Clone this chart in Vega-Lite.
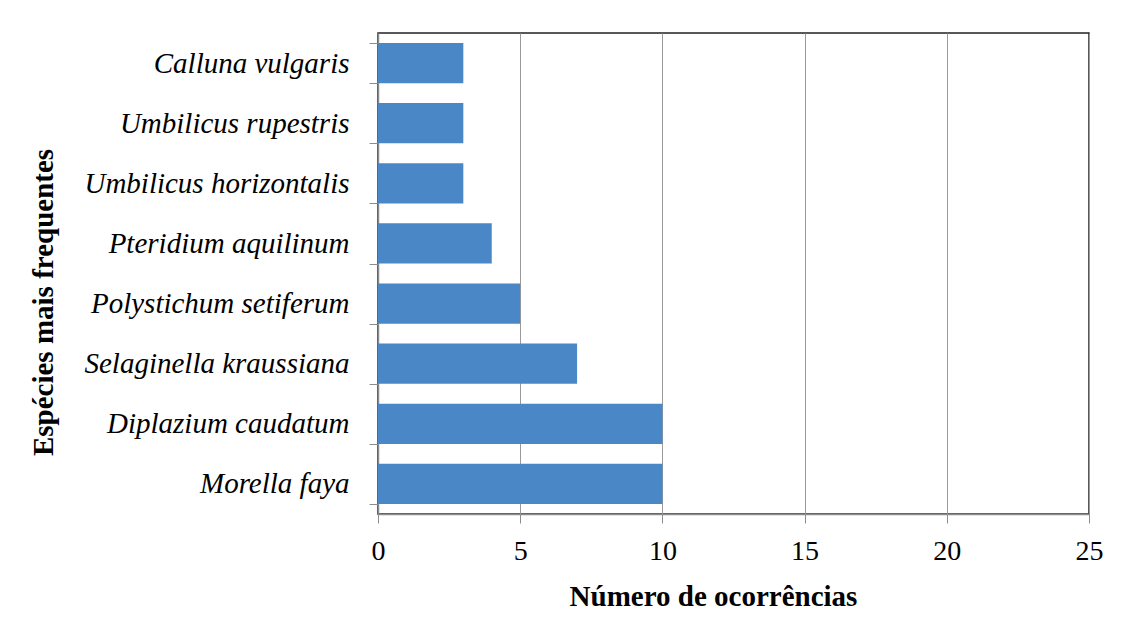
{
  "$schema": "https://vega.github.io/schema/vega-lite/v6.json",
  "width": 711,
  "height": 481,
  "autosize": {"type": "none"},
  "padding": {"left": 378, "top": 33, "right": 36, "bottom": 116},
  "background": "white",
  "config": {
    "view": {"stroke": "#222222", "strokeWidth": 1.5},
    "font": "Liberation Serif"
  },
  "data": {
    "values": [
      {"especie": "Calluna vulgaris", "ocorrencias": 3},
      {"especie": "Umbilicus rupestris", "ocorrencias": 3},
      {"especie": "Umbilicus horizontalis", "ocorrencias": 3},
      {"especie": "Pteridium aquilinum", "ocorrencias": 4},
      {"especie": "Polystichum setiferum", "ocorrencias": 5},
      {"especie": "Selaginella kraussiana", "ocorrencias": 7},
      {"especie": "Diplazium caudatum", "ocorrencias": 10},
      {"especie": "Morella faya", "ocorrencias": 10}
    ]
  },
  "mark": {"type": "bar", "color": "#4A87C7"},
  "encoding": {
    "y": {
      "field": "especie",
      "type": "nominal",
      "sort": null,
      "scale": {"paddingInner": 0.33, "paddingOuter": 0.165},
      "axis": {
        "title": "Espécies mais frequentes",
        "titleFont": "Liberation Serif",
        "titleFontSize": 29,
        "titleFontWeight": "bold",
        "titleColor": "black",
        "titleX": -326,
        "titleY": 269,
        "titleBaseline": "alphabetic",
        "titleAngle": -90,
        "labelFont": "Liberation Serif",
        "labelFontSize": 29,
        "labelFontStyle": "italic",
        "labelColor": "black",
        "labelPadding": 20,
        "labelLimit": 400,
        "tickSize": 9,
        "tickColor": "#8c8c8c",
        "tickBand": "extent",
        "domainColor": "#8c8c8c",
        "domainWidth": 1.5,
        "grid": false
      }
    },
    "x": {
      "field": "ocorrencias",
      "type": "quantitative",
      "scale": {"domain": [0, 25], "nice": false},
      "axis": {
        "title": "Número de ocorrências",
        "titleFont": "Liberation Serif",
        "titleFontSize": 29,
        "titleFontWeight": "bold",
        "titleColor": "black",
        "titleX": 335,
        "titleY": 91,
        "titleBaseline": "alphabetic",
        "values": [0, 5, 10, 15, 20, 25],
        "labelFont": "Liberation Serif",
        "labelFontSize": 28,
        "labelColor": "black",
        "labelPadding": 14,
        "labelFlush": false,
        "tickSize": 9,
        "tickColor": "#8c8c8c",
        "domainColor": "#8c8c8c",
        "domainWidth": 1.5,
        "grid": true,
        "gridColor": "#9a9a9a",
        "gridWidth": 1
      }
    }
  }
}
